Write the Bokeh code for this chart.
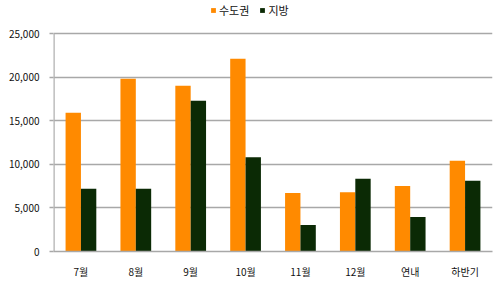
from bokeh.plotting import figure
from bokeh.models import ColumnDataSource, FactorRange, Range1d, NumeralTickFormatter, Legend, LegendItem, FixedTicker
from bokeh.transform import dodge
from bokeh.embed import file_html
from bokeh.resources import INLINE

categories = ["7월", "8월", "9월", "10월", "11월", "12월", "연내", "하반기"]
capital = [15900, 19800, 19000, 22100, 6700, 6800, 7500, 10400]
regional = [7200, 7200, 17300, 10800, 3050, 8350, 3950, 8100]
series_names = ["수도권", "지방"]
colors = ["#FF8A00", "#0B2A05"]
y_ticks = [0, 5000, 10000, 15000, 20000, 25000]

src = ColumnDataSource(dict(cat=categories, capital=capital, regional=regional))

FONT = "Noto Sans CJK KR"
# frame reaches the top of the page so the legend above the axis is not clipped;
# the value axis top (25,000) sits 33px below the page top, the baseline 251px down
y_top = max(y_ticks) * 251 / 218

p = figure(frame_width=439, frame_height=251, x_range=FactorRange(*categories, range_padding=0),
           y_range=Range1d(0, y_top), output_backend="svg", toolbar_location=None,
           min_border_left=53, min_border_right=8, min_border_top=0, min_border_bottom=30)
p.outline_line_color = None
p.background_fill_color = "white"

r1 = p.vbar(x=dodge("cat", -0.14, range=p.x_range), top="capital", width=0.28,
            source=src, fill_color=colors[0], line_color=None)
r2 = p.vbar(x=dodge("cat", 0.14, range=p.x_range), top="regional", width=0.28,
            source=src, fill_color=colors[1], line_color=None)

# value-axis line only from 0 to the top tick
p.segment(x0=[0], x1=[0], y0=[min(y_ticks)], y1=[max(y_ticks)], line_color="#b0b0b0", line_width=2.5)

p.xgrid.grid_line_color = None
p.ygrid.grid_line_color = "#a8a8a8"
p.ygrid.grid_line_width = 1.5
p.yaxis.ticker = FixedTicker(ticks=y_ticks)
p.yaxis.formatter = NumeralTickFormatter(format="0,0")
p.yaxis.axis_line_color = None
p.yaxis.major_tick_line_color = "#a8a8a8"
p.yaxis.major_tick_line_width = 1.5
p.yaxis.major_tick_out = 4
p.yaxis.major_tick_in = 0
p.yaxis.minor_tick_line_color = None
p.yaxis.major_label_standoff = 10
p.yaxis.major_label_text_font = FONT
p.yaxis.major_label_text_font_size = "10px"
p.yaxis.major_label_text_color = "#111111"

p.xaxis.axis_line_color = "#a8a8a8"
p.xaxis.axis_line_width = 1.5
p.xaxis.major_tick_line_color = None
p.xaxis.major_tick_out = 0
p.xaxis.minor_tick_line_color = None
p.xaxis.major_label_standoff = 12
p.xaxis.major_label_text_font = FONT
p.xaxis.major_label_text_font_size = "10px"
p.xaxis.major_label_text_color = "#111111"

legend = Legend(items=[LegendItem(label=series_names[0], renderers=[r1]),
                       LegendItem(label=series_names[1], renderers=[r2])],
                orientation="horizontal", location=(157, 233))
legend.border_line_color = None
legend.background_fill_alpha = 0
legend.glyph_width = 6
legend.glyph_height = 6
legend.label_standoff = 3
legend.spacing = 10
legend.padding = 0
legend.margin = 0
legend.label_text_font = FONT
legend.label_text_font_size = "11px"
legend.label_text_color = "#111111"
legend.label_height = 14
p.add_layout(legend, "center")

open("out.html", "w").write(file_html(p, INLINE))
